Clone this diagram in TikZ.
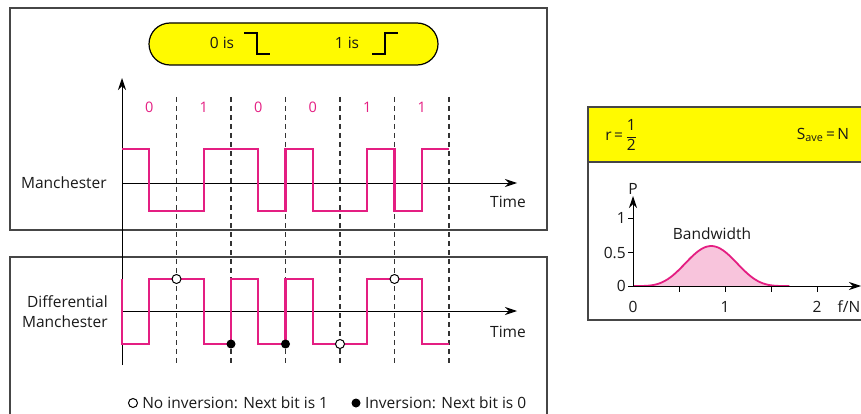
\documentclass[tikz,border=0pt]{standalone}
\usepackage{fontspec}
\setmainfont{Open Sans}
\usepackage{amsmath}
\usepackage{tikz}
\usetikzlibrary{positioning}
\usetikzlibrary{arrows}
\usetikzlibrary{arrows.meta}
\definecolor{mypink}{RGB}{228,30,130}
\definecolor{mylightpink}{RGB}{248,196,220}
\definecolor{myyellow}{RGB}{255,250,0}
\definecolor{mygray}{RGB}{70,70,70}
\tikzset{panel/.style={draw=mygray,line width=1.2pt},
  label text/.style={font=\fontsize{15.5}{20}\selectfont,text=black!90,inner sep=1pt},
  bit label/.style={font=\fontsize{14.5}{16}\selectfont,text=mypink},
  signal/.style={mypink,line width=2.2pt},
  bound/.style={dash pattern=on 5pt off 4pt,line width=1.2pt,black!80},
  open dot/.style={circle,draw=black,fill=white,line width=1pt,minimum size=9pt,inner sep=0pt},
  full dot/.style={circle,fill=black,minimum size=9pt,inner sep=0pt},
  pill/.style={draw=black,fill=myyellow,line width=1.2pt,rounded corners=21pt,minimum width=289pt,minimum height=42pt},}

\begin{document}
\begin{tikzpicture}[>={Stealth[length=12pt,width=8pt]}, x=1pt, y=-1pt, semithick]
	\useasboundingbox (0,0) rectangle (861,414);
	\clip (0,0) rectangle (861,414);

	% panels
	\draw[panel] (10,8) rectangle (547,230);
	\draw[panel] (10,257) rectangle (547,430);

	% rule in the pill
	\node[pill] (rule) at (293.5,44) {};
	\node[label text] (zero) at (222,43) {0 is};
	\node[label text] (one) at (347,43) {1 is};
	\draw[line width=2.6pt] (244,33) -- (257,33) -- (257,54) -- (270,54);
	\draw[line width=2.6pt] (372,54) -- (385,54) -- (385,33) -- (398,33);

	% bit boundaries and bits
	\foreach \k in {1,...,6} {
		\coordinate (dt\k) at ({122+54.5*\k},97);
		\coordinate (db\k) at ({122+54.5*\k},365);
		\draw[bound] (dt\k) -- (db\k);
	}
	\foreach \b [count=\k] in {0,1,0,0,1,1}
		\node[bit label] (bit\k) at ({122+54.5*(\k-0.5)},107) {\b};

	% axes
	\coordinate (vtop) at (122,78);
	\coordinate (vbot) at (122,365);
	\coordinate (o1) at (122,183);
	\coordinate (t1) at (517,183);
	\coordinate (o2) at (122,311);
	\coordinate (t2) at (517,311);
	\draw[->, line width=1pt] (vbot) -- (vtop);
	\draw[->, line width=1pt] (o1) -- (t1);
	\draw[->, line width=1pt] (o2) -- (t2);
	\node[label text] (time1) at (508,202) {Time};
	\node[label text] (time2) at (508,332) {Time};
	\node[label text, anchor=east] (man) at (108,183) {Manchester};
	\node[label text, anchor=east, align=right] (diff) at (109,312) {Differential\\Manchester};

	% Manchester
	\draw[signal] (122,149) -- (149,149) -- (149,211) -- (204,211) -- (204,149) -- (258,149) -- (258,211)
		-- (285.5,211) -- (285.5,149) -- (313,149) -- (313,211) -- (367,211) -- (367,149) -- (394.5,149)
		-- (394.5,211) -- (422,211) -- (422,149) -- (449,149);

	% differential Manchester
	\draw[signal] (122,279) -- (122,344) -- (149,344) -- (149,279) -- (204,279) -- (204,344) -- (231,344)
		-- (231,279) -- (258,279) -- (258,344) -- (285.5,344) -- (285.5,279) -- (313,279) -- (313,344)
		-- (367,344) -- (367,279) -- (422,279) -- (422,344) -- (449,344);
	\node[open dot] (n1) at (176.5,279) {};
	\node[full dot] (n2) at (231,344) {};
	\node[full dot] (n3) at (285.5,344) {};
	\node[open dot] (n4) at (340,344) {};
	\node[open dot] (n5) at (394.5,279) {};

	% legend
	\node[open dot] (leg0) at (133,403) {};
	\node[label text, right=3pt of leg0] (legtext0) {No inversion: Next bit is 1};
	\node[full dot] (leg1) at (356,403) {};
	\node[label text, right=3pt of leg1] (legtext1) {Inversion: Next bit is 0};

	% spectrum panel
	\fill[myyellow] (588,107) rectangle (880,162);
	\draw[panel] (588,107) rectangle (880,320);
	\draw[panel] (588,162) -- (880,162);
	\node[label text, anchor=west] (rate) at (604,135) {r\,=\,$\dfrac{\text{1}}{\text{2}}$};
	\node[label text] (save) at (823,135) {S\textsubscript{ave}\,=\,N};

	\fill[mylightpink] (633,286) -- plot[domain=0:1.7, samples=60, smooth]
		({633+92*\x},{286-40*sin(\x*105.88)*sin(\x*105.88)*sin(\x*105.88)*sin(\x*105.88)}) -- cycle;
	\draw[mypink, line width=1.8pt] plot[domain=0:1.7, samples=60, smooth]
		({633+92*\x},{286-40*sin(\x*105.88)*sin(\x*105.88)*sin(\x*105.88)*sin(\x*105.88)});

	\coordinate (p0) at (633,286);
	\coordinate (ptop) at (633,196);
	\coordinate (fend) at (861,286);
	\draw[->, line width=1pt] (p0) -- (ptop);
	\draw[->, line width=1pt] (628,286) -- (fend);
	\node[label text, above=0pt of ptop] (plab) {P};
	\foreach \y/\t in {218/1, 252.5/0.5, 286/0} {
		\draw[line width=1pt] (628,\y) -- (633,\y);
		\node[label text, anchor=east] (yt\t) at (627,\y) {\t};
	}
	\foreach \x in {0.5,1,1.5,2}
		\draw[line width=1pt] ({633+92*\x},286) -- ({633+92*\x},292);
	\node[label text] (x0) at (633,307) {0};
	\node[label text] (x1) at (725,307) {1};
	\node[label text] (x2) at (817,307) {2};
	\node[label text] (fn) at (849,307) {f/N};
	\node[label text] (bw) at (712,234) {Bandwidth};
\end{tikzpicture}
\end{document}
